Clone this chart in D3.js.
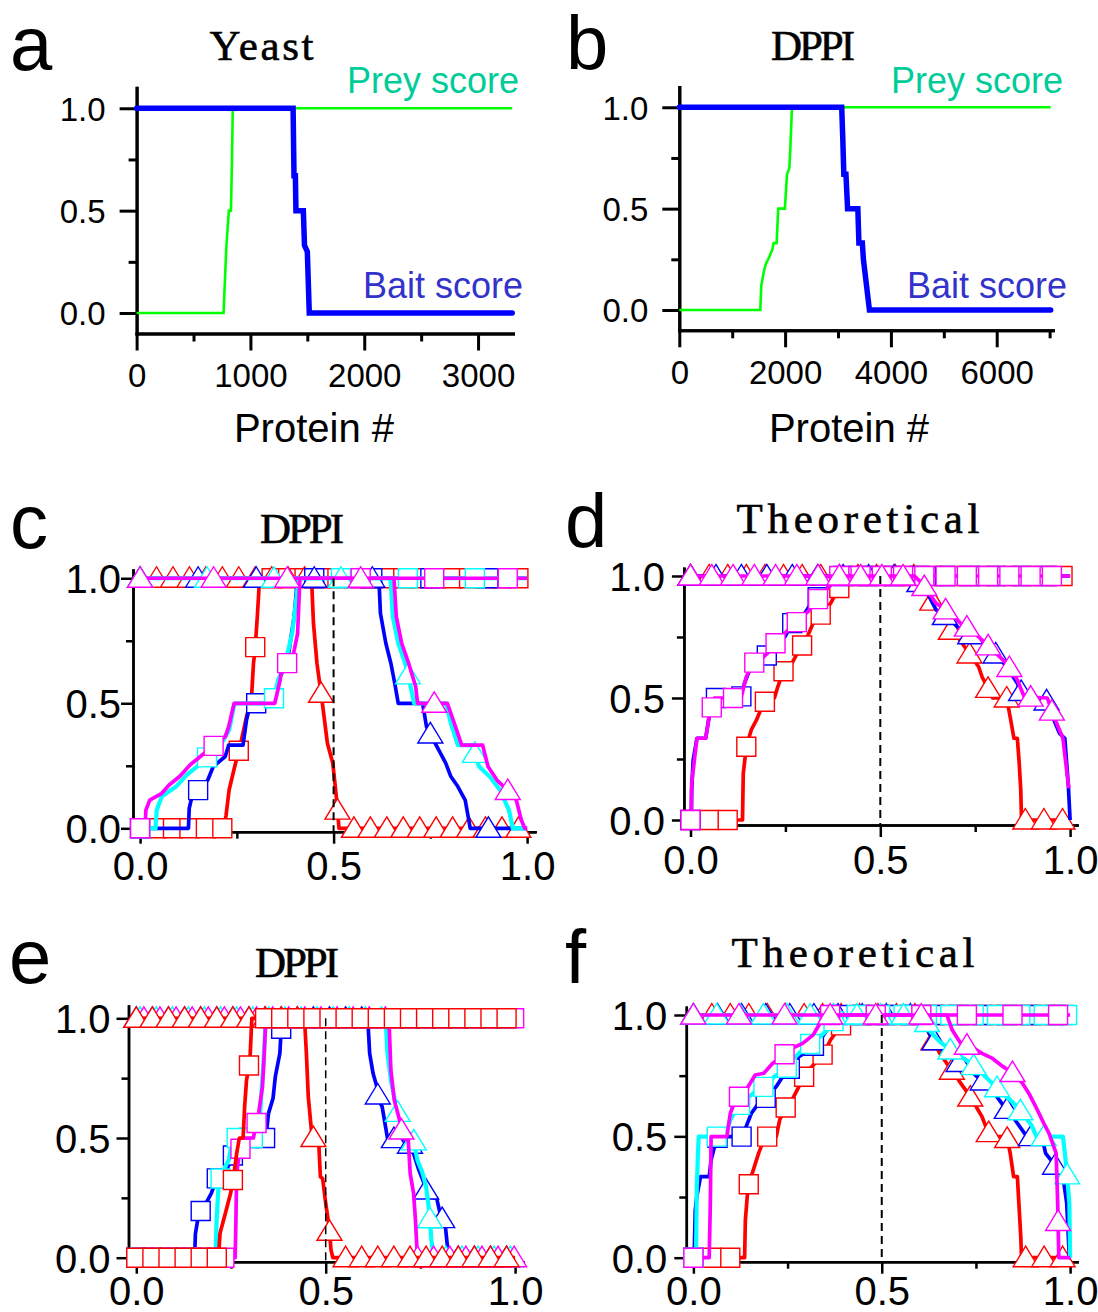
<!DOCTYPE html>
<html>
<head>
<meta charset="utf-8">
<script src="https://cdnjs.cloudflare.com/ajax/libs/d3/7.8.5/d3.min.js"></script>
<style>
  body { margin: 0; background: #fff; }
</style>
</head>
<body>
<svg id="fig" width="1098" height="1312"></svg>
<script>
// ---- data: panel a (Yeast), panel b (DPPI) : protein # vs score
const yeastBait = [[0,1],[1375,1],[1383,0.67],[1395,0.67],[1400,0.5],[1465,0.5],[1475,0.33],[1500,0.3],[1517,0],[3300,0]];
const yeastPrey = [[0,0],[764,0],[789,0.33],[811,0.5],[829,0.5],[838,0.75],[845,1],[3300,1]];
const dppiBait = [[0,1],[3070,1],[3090,0.85],[3110,0.67],[3150,0.67],[3181,0.5],[3375,0.5],[3395,0.33],[3460,0.33],[3480,0.25],[3594,0],[7020,0]];
const dppiPrey = [[0,0],[1531,0],[1550,0.12],[1597,0.19],[1640,0.23],[1698,0.26],[1760,0.3],[1783,0.33],[1840,0.33],[1870,0.5],[1996,0.5],[2036,0.67],[2080,0.7],[2096,0.78],[2130,1],[7020,1]];

// ---- data: panel c (DPPI)
const cRedSq  = [[0,0],[0.215,0],[0.222,0.05],[0.23,0.153],[0.245,0.25],[0.26,0.34],[0.275,0.447],[0.285,0.5],[0.288,0.527],[0.293,0.66],[0.297,0.713],[0.303,0.85],[0.307,0.953],[0.31,1],[1,1]];
const cBlueSq = [[0,0],[0.125,0],[0.127,0.08],[0.134,0.127],[0.175,0.193],[0.189,0.247],[0.22,0.287],[0.229,0.333],[0.266,0.333],[0.275,0.433],[0.284,0.493],[0.29,0.5],[0.348,0.5],[0.357,0.593],[0.38,0.66],[0.389,0.753],[0.398,0.847],[0.407,1],[1,1]];
const cCyanSq = [[0,0],[0.04,0],[0.043,0.073],[0.056,0.127],[0.093,0.167],[0.12,0.213],[0.157,0.26],[0.184,0.3],[0.211,0.34],[0.23,0.393],[0.243,0.493],[0.248,0.5],[0.343,0.5],[0.357,0.593],[0.375,0.66],[0.393,0.78],[0.41,1],[1,1]];
const cMagSq  = [[0,0],[0.013,0],[0.015,0.073],[0.025,0.113],[0.056,0.14],[0.075,0.173],[0.102,0.207],[0.129,0.253],[0.166,0.3],[0.22,0.367],[0.229,0.407],[0.243,0.5],[0.348,0.5],[0.362,0.593],[0.366,0.647],[0.393,0.673],[0.407,0.78],[0.413,1],[1,1]];
const cRedTri  = [[0,1],[0.443,1],[0.448,0.82],[0.457,0.66],[0.471,0.5],[0.484,0.34],[0.498,0.26],[0.507,0.127],[0.514,0],[1,0]];
const cBlueTri = [[0,1],[0.617,1],[0.621,0.86],[0.635,0.74],[0.648,0.66],[0.658,0.58],[0.667,0.5],[0.73,0.5],[0.74,0.407],[0.767,0.327],[0.79,0.26],[0.803,0.207],[0.821,0.167],[0.84,0.113],[0.853,0],[1,0]];
const cCyanTri = [[0,1],[0.647,1],[0.653,0.847],[0.667,0.74],[0.685,0.66],[0.699,0.567],[0.708,0.5],[0.79,0.5],[0.803,0.42],[0.821,0.333],[0.858,0.333],[0.876,0.247],[0.903,0.207],[0.93,0.153],[0.953,0.073],[0.963,0],[1,0]];
const cMagTri  = [[0,1],[0.656,1],[0.662,0.847],[0.676,0.74],[0.694,0.66],[0.712,0.567],[0.717,0.5],[0.794,0.5],[0.812,0.42],[0.831,0.333],[0.885,0.333],[0.899,0.247],[0.922,0.193],[0.949,0.153],[0.972,0.113],[0.985,0.033],[0.994,0],[1,0]];

// ---- data: panel d (Theoretical)
const dRedSq  = [[0,0],[0.137,0],[0.139,0.19],[0.147,0.3],[0.16,0.369],[0.174,0.41],[0.188,0.464],[0.198,0.49],[0.204,0.5],[0.221,0.5],[0.23,0.546],[0.244,0.608],[0.267,0.642],[0.286,0.697],[0.304,0.738],[0.323,0.806],[0.346,0.847],[0.369,0.888],[0.388,0.943],[0.406,0.977],[0.416,1],[1,1]];
const dBlueSq = [[0,0],[0.002,0],[0.003,0.123],[0.007,0.246],[0.017,0.335],[0.04,0.335],[0.049,0.423],[0.054,0.5],[0.133,0.5],[0.142,0.56],[0.156,0.615],[0.174,0.649],[0.198,0.669],[0.221,0.71],[0.249,0.751],[0.267,0.806],[0.295,0.833],[0.318,0.888],[0.346,0.929],[0.369,0.963],[0.383,1],[1,1]];
const dMagSq  = [[0,0],[0.002,0],[0.003,0.15],[0.017,0.335],[0.04,0.335],[0.049,0.423],[0.063,0.5],[0.133,0.5],[0.147,0.587],[0.165,0.642],[0.193,0.669],[0.212,0.697],[0.23,0.738],[0.258,0.779],[0.295,0.833],[0.314,0.861],[0.341,0.915],[0.369,0.963],[0.38,1],[1,1]];
const dRedTri  = [[0,1],[0.596,1],[0.615,0.956],[0.629,0.915],[0.647,0.874],[0.666,0.833],[0.685,0.779],[0.703,0.751],[0.722,0.71],[0.74,0.669],[0.759,0.628],[0.768,0.587],[0.782,0.546],[0.796,0.5],[0.833,0.5],[0.842,0.423],[0.852,0.335],[0.861,0.335],[0.866,0.232],[0.87,0.123],[0.872,0],[1,0]];
const dBlueTri = [[0,1],[0.592,1],[0.61,0.956],[0.629,0.915],[0.647,0.861],[0.675,0.833],[0.703,0.792],[0.731,0.765],[0.759,0.738],[0.787,0.71],[0.814,0.663],[0.833,0.628],[0.861,0.56],[0.879,0.5],[0.935,0.5],[0.954,0.423],[0.972,0.355],[0.986,0.335],[0.995,0.15],[1,0]];
const dMagTri  = [[0,1],[0.59,1],[0.61,0.97],[0.647,0.888],[0.685,0.847],[0.712,0.806],[0.74,0.779],[0.777,0.724],[0.805,0.683],[0.833,0.642],[0.861,0.574],[0.879,0.505],[0.94,0.5],[0.954,0.437],[0.972,0.369],[0.981,0.335],[0.995,0.15],[0.997,0.13]];

// ---- data: panel e (DPPI)
const eRedSq  = [[0,0],[0.217,0],[0.221,0.102],[0.235,0.185],[0.249,0.269],[0.258,0.352],[0.265,0.436],[0.272,0.5],[0.282,0.5],[0.286,0.631],[0.291,0.742],[0.3,0.826],[0.305,1],[1,1]];
const eBlueSq = [[0,0],[0.154,0],[0.156,0.1],[0.165,0.185],[0.179,0.213],[0.198,0.269],[0.212,0.331],[0.235,0.352],[0.249,0.408],[0.258,0.436],[0.268,0.5],[0.342,0.5],[0.349,0.603],[0.361,0.666],[0.367,0.756],[0.379,0.854],[0.384,1],[1,1]];
const eCyanSq = [[0,0],[0.209,0],[0.212,0.157],[0.217,0.297],[0.226,0.352],[0.244,0.408],[0.254,0.5],[0.323,0.5],[0.328,0.631],[0.335,0.798],[0.342,1],[1,1]];
const eMagSq  = [[0,0],[0.261,0],[0.263,0.157],[0.265,0.352],[0.272,0.436],[0.282,0.5],[0.309,0.5],[0.323,0.603],[0.333,0.714],[0.337,0.826],[0.342,1],[1,1]];
const eRedTri  = [[0,1],[0.444,1],[0.449,0.854],[0.454,0.673],[0.463,0.52],[0.468,0.5],[0.481,0.5],[0.486,0.338],[0.492,0.33],[0.5,0.227],[0.509,0.13],[0.514,0.032],[0.519,0],[1,0]];
const eBlueTri = [[0,1],[0.611,1],[0.616,0.854],[0.625,0.77],[0.635,0.714],[0.639,0.659],[0.649,0.631],[0.663,0.5],[0.718,0.492],[0.732,0.436],[0.746,0.366],[0.76,0.31],[0.77,0.255],[0.793,0.248],[0.802,0.185],[0.816,0.13],[0.821,0.053],[0.825,0],[1,0]];
const eCyanTri = [[0,1],[0.658,1],[0.663,0.854],[0.672,0.742],[0.686,0.631],[0.7,0.547],[0.714,0.5],[0.732,0.492],[0.742,0.408],[0.756,0.352],[0.765,0.297],[0.774,0.185],[0.779,0.074],[0.785,0],[1,0]];
const eMagTri  = [[0,1],[0.667,1],[0.672,0.784],[0.681,0.659],[0.695,0.575],[0.704,0.5],[0.718,0.49],[0.723,0.352],[0.732,0.269],[0.737,0.157],[0.742,0],[1,0]];

// ---- data: panel f (Theoretical)
const fRedSq  = [[0,0],[0.136,0],[0.138,0.155],[0.145,0.293],[0.159,0.361],[0.173,0.43],[0.187,0.485],[0.196,0.499],[0.22,0.499],[0.229,0.567],[0.243,0.615],[0.262,0.65],[0.28,0.705],[0.299,0.76],[0.322,0.8],[0.346,0.842],[0.364,0.897],[0.383,0.938],[0.402,0.979],[0.411,1],[1,1]];
const fBlueSq = [[0,0],[0.002,0],[0.005,0.196],[0.009,0.251],[0.019,0.334],[0.042,0.334],[0.047,0.402],[0.056,0.457],[0.065,0.499],[0.131,0.499],[0.14,0.54],[0.154,0.595],[0.173,0.636],[0.196,0.663],[0.22,0.705],[0.243,0.76],[0.262,0.787],[0.28,0.828],[0.308,0.856],[0.336,0.897],[0.355,0.938],[0.374,0.979],[0.383,1],[1,1]];
const fCyanSq = [[0,0],[0.007,0],[0.009,0.293],[0.014,0.499],[0.084,0.499],[0.098,0.567],[0.112,0.609],[0.136,0.65],[0.159,0.677],[0.187,0.705],[0.215,0.746],[0.243,0.773],[0.271,0.828],[0.299,0.87],[0.327,0.897],[0.355,0.938],[0.374,0.979],[0.383,1],[1,1]];
const fMagSq  = [[0,0],[0.042,0],[0.045,0.224],[0.047,0.499],[0.089,0.499],[0.098,0.595],[0.112,0.65],[0.14,0.691],[0.164,0.753],[0.187,0.76],[0.21,0.8],[0.234,0.828],[0.262,0.863],[0.29,0.883],[0.318,0.918],[0.336,0.966],[0.346,1],[1,1]];
const fRedTri  = [[0,1],[0.607,1],[0.621,0.938],[0.636,0.897],[0.654,0.842],[0.673,0.8],[0.692,0.76],[0.71,0.718],[0.729,0.677],[0.748,0.629],[0.766,0.581],[0.78,0.526],[0.79,0.499],[0.832,0.499],[0.841,0.43],[0.85,0.334],[0.86,0.334],[0.864,0.224],[0.869,0.087],[0.871,0],[1,0]];
const fBlueTri = [[0,1],[0.607,1],[0.626,0.924],[0.645,0.883],[0.664,0.849],[0.692,0.815],[0.724,0.787],[0.748,0.753],[0.776,0.718],[0.799,0.677],[0.822,0.629],[0.841,0.595],[0.86,0.554],[0.879,0.512],[0.885,0.499],[0.925,0.499],[0.935,0.43],[0.963,0.375],[0.981,0.334],[0.991,0.224],[0.998,0],[1,0]];
const fCyanTri = [[0,1],[0.612,1],[0.63,0.93],[0.654,0.89],[0.682,0.856],[0.71,0.828],[0.738,0.8],[0.766,0.76],[0.794,0.718],[0.822,0.677],[0.85,0.636],[0.874,0.595],[0.897,0.547],[0.911,0.499],[0.981,0.499],[0.991,0.361],[0.998,0.224],[1,0]];
const fMagTri  = [[0,1],[0.673,1],[0.687,0.938],[0.71,0.883],[0.738,0.87],[0.766,0.842],[0.794,0.821],[0.822,0.787],[0.85,0.76],[0.874,0.718],[0.893,0.67],[0.911,0.615],[0.93,0.554],[0.944,0.512],[0.963,0.43],[0.967,0.224],[0.97,0],[1,0]];

// tick values
const scoreTicks = [0, 0.5, 1];
const scoreMinor = [0.25, 0.75];
const yeastTicks = [0, 1000, 2000, 3000];
const yeastMinor = [500, 1500, 2500];
const dppiTicks = [0, 2000, 4000, 6000];
const dppiMinor = [1000, 3000, 5000, 7000];

const RED = "#ff0000", BLUE = "#0000ff", CYAN = "#00ffff", MAG = "#ff00ff";
const SANS = "Liberation Sans, Arial, sans-serif";
const SERIF = "Liberation Serif, Times New Roman, serif";

const svg = d3.select("#fig");

function valueAt(pts, xv) {
  if (xv <= pts[0][0]) return pts[0][1];
  for (let i = 1; i < pts.length; i++) {
    if (xv <= pts[i][0]) {
      const [x0, y0] = pts[i - 1], [x1, y1] = pts[i];
      return x1 === x0 ? y1 : y0 + (y1 - y0) * (xv - x0) / (x1 - x0);
    }
  }
  return pts[pts.length - 1][1];
}

function axes(g, x, y, o) {
  const bottom = y.range()[0], left = x.range()[0];
  const xa = g.append("g").attr("transform", `translate(0,${bottom})`);
  xa.append("g").call(d3.axisBottom(x).tickValues(o.xMinor).tickSize(o.minor).tickFormat("").tickSizeOuter(0));
  const xm = xa.append("g").call(d3.axisBottom(x).tickValues(o.xMajor).tickSize(o.major).tickFormat(o.xFmt).tickSizeOuter(0));
  xm.selectAll("text").attr("y", o.xBase).attr("dy", 0);

  const ya = g.append("g").attr("transform", `translate(${left},0)`);
  ya.append("g").call(d3.axisLeft(y).tickValues(scoreMinor).tickSize(o.minor).tickFormat("").tickSizeOuter(0));
  const ym = ya.append("g").call(d3.axisLeft(y).tickValues(scoreTicks).tickSize(o.major).tickFormat(d3.format(".1f")).tickSizeOuter(0));
  ym.selectAll("text").attr("x", -o.yGap).attr("dy", "0.36em");

  g.selectAll(".domain, .tick line").attr("stroke", "#000").attr("stroke-width", o.sw);
  g.selectAll(".tick text").attr("fill", "#000").attr("font-family", SANS).attr("font-size", o.fs);
  g.selectAll(".domain").attr("stroke-linecap", "square");
}

function label(txt, x, y) {
  svg.append("text").attr("x", x).attr("y", y).attr("font-family", SANS).attr("font-size", 76).text(txt);
}
function title(txt, cx, y, len) {
  svg.append("text").attr("x", cx - len / 2).attr("y", y).attr("font-family", SERIF).attr("font-size", 43)
    .attr("stroke", "#000").attr("stroke-width", 0.6)
    .attr("textLength", len).attr("lengthAdjust", "spacing").text(txt);
}

// ---------- panels a, b ----------
function scorePanel(p) {
  const g = svg.append("g");
  const x = d3.scaleLinear().domain(p.xDomain).range(p.xRange);
  const y = d3.scaleLinear().domain([-0.1, 1.1]).range(p.yRange);
  axes(g, x, y, { xMajor: p.ticks, xMinor: p.minorTicks, xFmt: d3.format("d"), major: 17, minor: 8,
    xBase: 53.5, yGap: 31, sw: 3, fs: 33 });
  const line = d3.line().x(d => x(d[0])).y(d => y(d[1]));
  g.append("path").datum(p.prey).attr("d", line).attr("fill", "none").attr("stroke", "#00ff00").attr("stroke-width", 2.6);
  g.append("path").datum(p.bait).attr("d", line).attr("fill", "none").attr("stroke", BLUE).attr("stroke-width", 5.5)
    .attr("stroke-linecap", "round");
  g.append("text").attr("x", p.preyX).attr("y", 93).attr("text-anchor", "end").attr("font-family", SANS)
    .attr("font-size", 36).attr("fill", "#00cc99").text("Prey score");
  g.append("text").attr("x", p.baitX).attr("y", 298).attr("text-anchor", "end").attr("font-family", SANS)
    .attr("font-size", 36).attr("fill", "#3333cc").text("Bait score");
  g.append("text").attr("x", p.nameX).attr("y", 442).attr("text-anchor", "middle").attr("font-family", SANS)
    .attr("font-size", 40).text("Protein #");
}

scorePanel({ xDomain: [0, 3307], xRange: [136.6, 513], yRange: [333.5, 87.8], ticks: yeastTicks, minorTicks: yeastMinor,
  prey: yeastPrey, bait: yeastBait, preyX: 519, baitX: 523, nameX: 314 });
scorePanel({ xDomain: [0, 7064], xRange: [679.3, 1053], yRange: [330.3, 87], ticks: dppiTicks, minorTicks: dppiMinor,
  prey: dppiPrey, bait: dppiBait, preyX: 1063, baitX: 1067, nameX: 849 });
label("a", 10, 70); label("b", 566, 69);
title("Yeast", 261.5, 60, 104);
title("DPPI", 813, 60, 84);

// ---------- panels c–f ----------
function rankPanel(p) {
  const g = svg.append("g");
  const x = d3.scaleLinear().domain(p.xDomain).range(p.xRange);
  const y = d3.scaleLinear().domain(p.yDomain).range(p.yRange);
  axes(g, x, y, { xMajor: scoreTicks, xMinor: scoreMinor, xFmt: d3.format(".1f"), major: 12, minor: 7,
    xBase: p.xBase, yGap: p.yGap, sw: 2.5, fs: 40 });
  const line = d3.line().x(d => x(d[0])).y(d => y(d[1]));
  p.series.forEach(s => {
    const sg = g.append("g");
    sg.append("path").datum(s.data).attr("d", line).attr("fill", "none")
      .attr("stroke", s.color).attr("stroke-width", s.color === CYAN ? 4.2 : 3.7).attr("stroke-linejoin", "round");
    // symbols on every n-th point of the curve, as in the original plot
    const xs = d3.range(s.off || 0, 1.0001, s.step);
    sg.selectAll(".m").data(xs).join("path")
      .attr("transform", d => `translate(${x(d)},${y(valueAt(s.data, d))})`)
      .attr("d", s.tri ? "M0,-11.5L12.5,9L-12.5,9Z" : "M-9.5,-9.5H9.5V9.5H-9.5Z")
      .attr("fill", "#fff").attr("stroke", s.color).attr("stroke-width", 1.4);
  });
  g.append("line").attr("x1", x(0.5)).attr("x2", x(0.5)).attr("y1", y(1)).attr("y2", y.range()[0])
    .attr("stroke", "#000").attr("stroke-width", p.dashW).attr("stroke-dasharray", "8,5");
}

rankPanel({ xDomain: [-0.0183, 1.0204], xRange: [133, 535], yDomain: [-0.0136, 1.033], yRange: [831.7, 570],
  xBase: 48, yGap: 12, dashW: 2,
  series: [
    { data: cRedSq, color: RED, step: 0.0425 }, { data: cRedTri, color: RED, step: 0.0425, tri: true },
    { data: cBlueSq, color: BLUE, step: 0.15 }, { data: cBlueTri, color: BLUE, step: 0.15, tri: true },
    { data: cCyanSq, color: CYAN, step: 0.173 }, { data: cCyanTri, color: CYAN, step: 0.173, tri: true },
    { data: cMagSq, color: MAG, step: 0.19 }, { data: cMagTri, color: MAG, step: 0.19, tri: true }
  ] });

rankPanel({ xDomain: [-0.0174, 1.0187], xRange: [683.9, 1077.2], yDomain: [-0.0205, 1.0315], yRange: [825, 568.3],
  xBase: 49, yGap: 19, dashW: 2,
  series: [
    { data: dRedSq, color: RED, step: 0.049 }, { data: dRedTri, color: RED, step: 0.049, tri: true },
    { data: dBlueSq, color: BLUE, step: 0.067 }, { data: dBlueTri, color: BLUE, step: 0.067, tri: true },
    { data: dMagSq, color: MAG, step: 0.056 }, { data: dMagTri, color: MAG, step: 0.056, tri: true }
  ] });

rankPanel({ xDomain: [-0.0206, 1.0206], xRange: [128.5, 522.9], yDomain: [-0.0167, 1.0514], yRange: [1261.7, 1006],
  xBase: 43, yGap: 18, dashW: 1.5,
  series: [
    { data: eBlueSq, color: BLUE, step: 0.0425 }, { data: eBlueTri, color: BLUE, step: 0.0425, tri: true },
    { data: eCyanSq, color: CYAN, step: 0.0425, off: 0.01 }, { data: eCyanTri, color: CYAN, step: 0.0425, off: 0.01, tri: true },
    { data: eMagSq, color: MAG, step: 0.0425, off: 0.02 }, { data: eMagTri, color: MAG, step: 0.0425, off: 0.02, tri: true },
    { data: eRedTri, color: RED, step: 0.0425, tri: true }, { data: eRedSq, color: RED, step: 0.0425 }
  ] });

rankPanel({ xDomain: [-0.0188, 1.0188], xRange: [686.3, 1077.2], yDomain: [-0.0165, 1.0317], yRange: [1261.7, 1007.3],
  xBase: 43, yGap: 19, dashW: 2,
  series: [
    { data: fRedSq, color: RED, step: 0.049 }, { data: fRedTri, color: RED, step: 0.049, tri: true },
    { data: fBlueSq, color: BLUE, step: 0.064 }, { data: fBlueTri, color: BLUE, step: 0.064, tri: true },
    { data: fCyanSq, color: CYAN, step: 0.062 }, { data: fCyanTri, color: CYAN, step: 0.062, tri: true },
    { data: fMagSq, color: MAG, step: 0.121 }, { data: fMagTri, color: MAG, step: 0.121, tri: true }
  ] });

label("c", 10, 548); label("d", 565, 547); label("e", 9, 983); label("f", 565, 983);
title("DPPI", 302, 543, 84);
title("Theoretical", 858, 533, 243);
title("DPPI", 297, 977, 84);
title("Theoretical", 853, 967, 243);
</script>
</body>
</html>
